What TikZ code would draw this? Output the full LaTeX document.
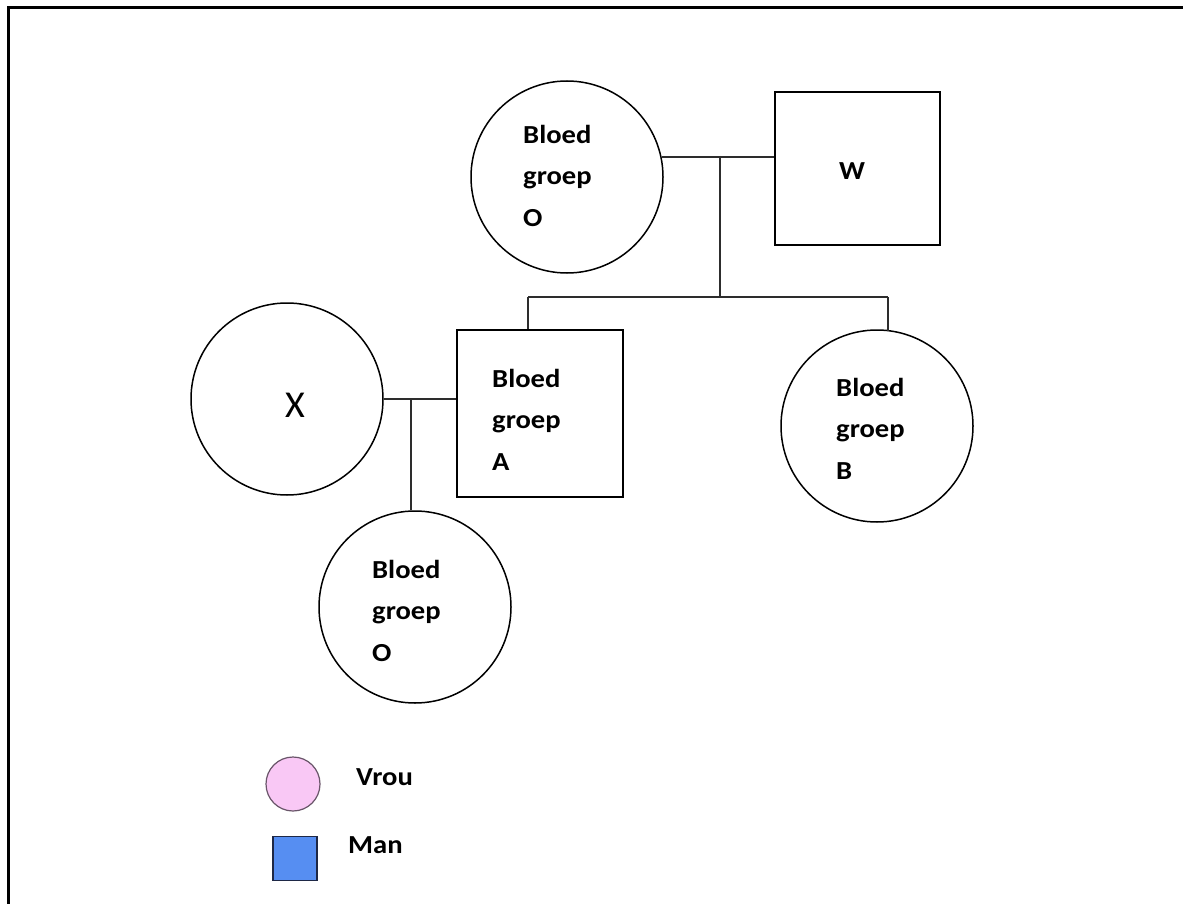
\documentclass[tikz,border=0pt]{standalone}
\usepackage{fontspec}
\usetikzlibrary{calc}
\newfontfamily\lab[FakeStretch=1.1]{Carlito}
\newfontfamily\plainlab{Carlito}
\definecolor{vroupink}{RGB}{249,200,245}
\definecolor{vrouedge}{RGB}{105,85,105}
\definecolor{manblue}{RGB}{86,142,242}
\definecolor{manedge}{RGB}{30,40,70}
\definecolor{linegray}{RGB}{45,45,45}
\tikzset{
  personcircle/.style={circle, draw=black, line width=1.5pt, minimum size=192pt, inner sep=0pt},
  personbox/.style={rectangle, draw=black, line width=1.5pt, inner sep=0pt},
  conn/.style={draw=linegray, line width=1.8pt},
  lbl/.style={font=\lab\bfseries\fontsize{26}{41.5}\selectfont, align=left, anchor=base west, inner sep=0pt},
  frame/.style={line width=3pt, black}
}
\begin{document}
\begin{tikzpicture}[x=1pt,y=-1pt]
\useasboundingbox (0,0) rectangle (1183,904);
\fill[white] (0,0) rectangle (1183,904);
% frame
\coordinate (f0) at (8,8);
\coordinate (f1) at (1183,8);
\coordinate (f2) at (8,904);
\draw[frame] (f1) -- (f0) -- (f2);

% persons
\node[personcircle] (mom) at (567,177) {};
\node[personbox, minimum width=165pt, minimum height=153pt] (w) at (857.5,168.5) {};
\node[personbox, minimum width=166pt, minimum height=167pt] (a) at (540,413.5) {};
\node[personcircle] (b) at (877,426) {};
\node[personcircle] (x) at (287,399) {};
\node[personcircle] (child) at (415,607) {};

% labels (anchor = baseline of the last line)
\node[lbl] (tmom) at (523,226) {Bloed\\groep\\O};
\node[lbl] (tw) at (839,180) {W};
\node[lbl] (ta) at (492,470) {Bloed\\groep\\A};
\node[lbl] (tb) at (836,479) {Bloed\\groep\\B};
\node[lbl] (tchild) at (372,661) {Bloed\\groep\\O};
\node[font=\plainlab\fontsize{38}{40}\selectfont, inner sep=0pt] (tx) at (295,405) {X};

% connectors
\coordinate (m1) at (720,156);
\coordinate (s1) at (720,297);
\coordinate (sl) at (528,297);
\coordinate (sr) at (888,297);
\coordinate (m2) at (411,399);
\draw[conn] (mom.12.6) -- (mom.12.6 -| w.west);
\draw[conn] (m1) -- (s1);
\draw[conn] (sl) -- (sr);
\draw[conn] (sl) -- (sl |- a.north);
\draw[conn] (sr) -- ($(b.center)+(11,-95.4)$);
\draw[conn] (x.east) -- (x.east -| a.west);
\draw[conn] (m2) -- (m2 |- child.north);

% legend
\node[circle, fill=vroupink, draw=vrouedge, line width=1.2pt, minimum size=54pt, inner sep=0pt] (lvrou) at (293,784) {};
\node[rectangle, fill=manblue, draw=manedge, line width=1.2pt, minimum size=44pt, inner sep=0pt] (lman) at (295,858.5) {};
\node[lbl] (tvrou) at (356,785) {Vrou};
\node[lbl] (tman) at (348,853) {Man};
\end{tikzpicture}
\end{document}
